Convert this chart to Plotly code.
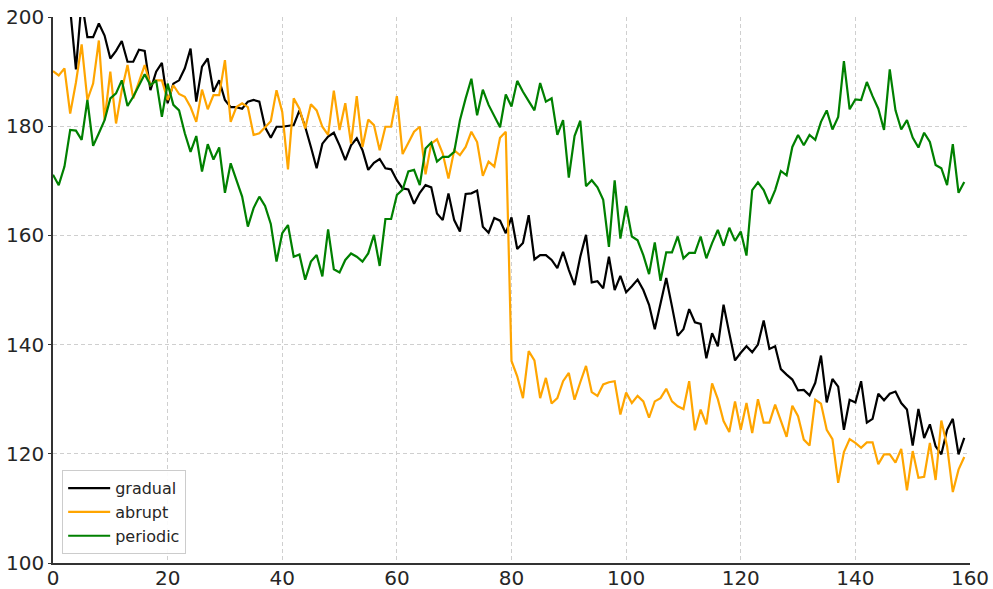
import plotly.graph_objects as go

# Time index shared by all three series
t = list(range(160))

gradual = [
    206, 208, 205, 201.5, 190.4, 203, 196.3, 196.3, 198.8, 196.6,
    192.4, 193.8, 195.6, 191.8, 191.8, 194, 193.8, 186.6, 190, 191.6,
    184.2, 187.8, 188.4, 190.6, 194.2, 184.5, 190.9, 192.4, 186.3, 188.4,
    184.8, 183.5, 183.5, 183.2, 184.5, 184.8, 184.5, 179.8, 177.9, 179.9,
    179.9, 180, 180.2, 182.9, 179.9, 176.2, 172.3, 176.8, 178.1, 178.8,
    176.5, 173.8, 176.5, 177.8, 175.6, 172, 173.3, 174, 172.3, 172.1,
    170.1, 168.6, 168.4, 165.8, 167.8, 169.2, 168.8, 164, 162.8, 167.7,
    162.8, 160.7, 167.6, 167.7, 168.2, 161.6, 160.5, 163.2, 162.7, 160.4,
    163.3, 157.5, 158.6, 163.7, 155.6, 156.4, 156.4, 155.5, 154, 157,
    153.7, 150.9, 156.1, 160.1, 151.4, 151.6, 150.3, 156.1, 150, 152.6,
    149.6, 150.7, 151.9, 150, 147.3, 142.8, 147.6, 152.2, 147, 141.6,
    142.8, 146.5, 144.1, 143.8, 137.5, 142.1, 139.7, 147.3, 142.1, 137.1,
    138.5, 139.7, 138.6, 140, 144.4, 139.2, 139.7, 135.5, 134.5, 133.6,
    131.6, 131.7, 130.7, 133, 138, 129.4, 133.7, 132.3, 124.4, 129.9,
    129.4, 133.3, 125.7, 126.4, 131, 129.8, 131, 131.4, 129.3, 128.1,
    121.5, 128.2, 122.9, 125.4, 121.4, 119.9, 124.4, 126.4, 119.9, 122.9,
]

abrupt = [
    190.1, 189.3, 190.6, 182.3, 188, 195, 184.8, 187.8, 195.7, 181.1,
    190, 180.5, 186.6, 191.2, 185.1, 188.1, 191.2, 187.5, 188.4, 188.4,
    184.8, 187.5, 185.9, 185.4, 183.5, 180.8, 186.7, 183.1, 185.7, 185.7,
    192.1, 180.8, 183.5, 184.2, 183.5, 178.4, 178.7, 179.8, 180.9, 186.6,
    182.6, 172.1, 185.1, 183.2, 179.6, 184, 182.9, 179.9, 178.4, 186.5,
    179.3, 184.2, 176.8, 185.5, 176.2, 181.2, 180.2, 175.6, 179.9, 179.9,
    185.5, 174.9, 177, 179, 179.9, 171.2, 176.8, 177.6, 175, 170.4,
    175.6, 174.7, 176.2, 179, 177.1, 170.9, 173.5, 172.6, 177.9, 179,
    137, 134.2, 130.2, 138.8, 137.1, 130.2, 133.9, 129.2, 130.2, 133.3,
    134.8, 129.9, 133.1, 136.1, 131.3, 130.6, 132.7, 133.1, 133.3, 127.2,
    131.2, 129.3, 130.6, 129.6, 126.6, 129.6, 130.2, 131.9, 129.6, 128.7,
    128.2, 133.3, 124.3, 128.1, 125.4, 132.9, 130, 126, 124, 129.6,
    124.4, 129.3, 123.8, 130, 125.7, 125.7, 129, 126.1, 123.1, 128.8,
    126.9, 122.6, 121.5, 129.9, 129.2, 124.4, 122.7, 114.7, 120.3, 122.7,
    122, 121.1, 122.1, 122.1, 118.1, 119.9, 119.9, 118.4, 120.9, 113.3,
    120.5, 115.6, 115.8, 122, 115.2, 126.1, 121.4, 113, 117.1, 119.4,
]

periodic = [
    171.1, 169.2, 172.6, 179.3, 179.2, 177.5, 184.8, 176.4, 178.7, 181.1,
    185.1, 186, 188.4, 183.7, 185.4, 187.5, 189.5, 187.5, 188.4, 181.7,
    187.8, 183.9, 182.9, 178.7, 175.3, 178.2, 171.7, 176.7, 173.9, 176.1,
    167.8, 173.2, 170.1, 167.1, 161.6, 165, 167.1, 165.4, 162.1, 155.2,
    160.4, 161.9, 156.1, 156.5, 151.9, 155.2, 156.4, 152.5, 161.1, 153.8,
    153.2, 155.5, 156.7, 156.1, 155.2, 156.7, 160.1, 154.4, 163, 163,
    167.4, 168.4, 171.7, 172, 169.2, 175.9, 177, 173.5, 174.4, 174.4,
    175.3, 181.1, 185.1, 188.7, 182, 186.7, 183.9, 181.9, 179.8, 185.8,
    183.6, 188.3, 186.3, 184.6, 182.9, 187.9, 184.5, 185.1, 178.4, 181.1,
    170.6, 178.2, 181, 169, 170.1, 168.8, 166.5, 157.9, 170.1, 159.4,
    165.4, 159.8, 159.1, 156.4, 152.9, 158.7, 151.7, 156.9, 156.9, 159.8,
    155.8, 156.8, 156.8, 159.8, 155.8, 158.6, 161, 158.1, 161.4, 159,
    160.7, 156.3, 168.3, 169.7, 168.3, 165.8, 168.3, 171.8, 171, 176.2,
    178.4, 176.5, 178.4, 177.5, 180.8, 182.9, 179.4, 181.7, 191.9, 183.1,
    184.9, 184.8, 188.1, 185.5, 183.2, 179.3, 190.4, 182.9, 179.4, 181.1,
    177.9, 176.1, 178.8, 177.1, 172.9, 172.3, 169.2, 176.7, 167.8, 169.8,
]

x_ticks = [0, 20, 40, 60, 80, 100, 120, 140, 160]
y_ticks = [100, 120, 140, 160, 180, 200]

series = [
    ("gradual", gradual, "#000000"),
    ("abrupt", abrupt, "#FFA500"),
    ("periodic", periodic, "#008000"),
]

fig = go.Figure()
for name, values, color in series:
    fig.add_trace(go.Scatter(
        x=t, y=values, name=name, mode="lines",
        line=dict(color=color, width=2.2),
    ))

axis_common = dict(
    automargin=False,
    showgrid=True,
    gridcolor="#cfcfcf",
    griddash="4px,3px",
    gridwidth=1,
    zeroline=False,
    showline=True,
    linecolor="#333333",
    linewidth=1.5,
    tickfont=dict(family="DejaVu Sans", size=20, color="#262626"),
    mirror=False,
)

fig.update_layout(
    width=993,
    height=589,
    margin=dict(l=53, r=23, t=17, b=26),
    paper_bgcolor="white",
    plot_bgcolor="white",
    font=dict(family="DejaVu Sans", color="#262626"),
    xaxis=dict(range=[0, 160], tickvals=x_ticks, ticks="", ticklen=0,
               ticklabelstandoff=-4, **axis_common),
    yaxis=dict(range=[100, 200], tickvals=y_ticks, ticks="outside",
               ticklen=3, tickcolor="#333333", **axis_common),
    legend=dict(
        x=0.01, y=0.016, xanchor="left", yanchor="bottom",
        bgcolor="rgba(255,255,255,0.9)",
        bordercolor="#cccccc", borderwidth=1,
        font=dict(family="DejaVu Sans", size=16, color="#262626"),
        tracegroupgap=0,
        itemwidth=42,
    ),
    showlegend=True,
)

fig.write_html("out.html")
